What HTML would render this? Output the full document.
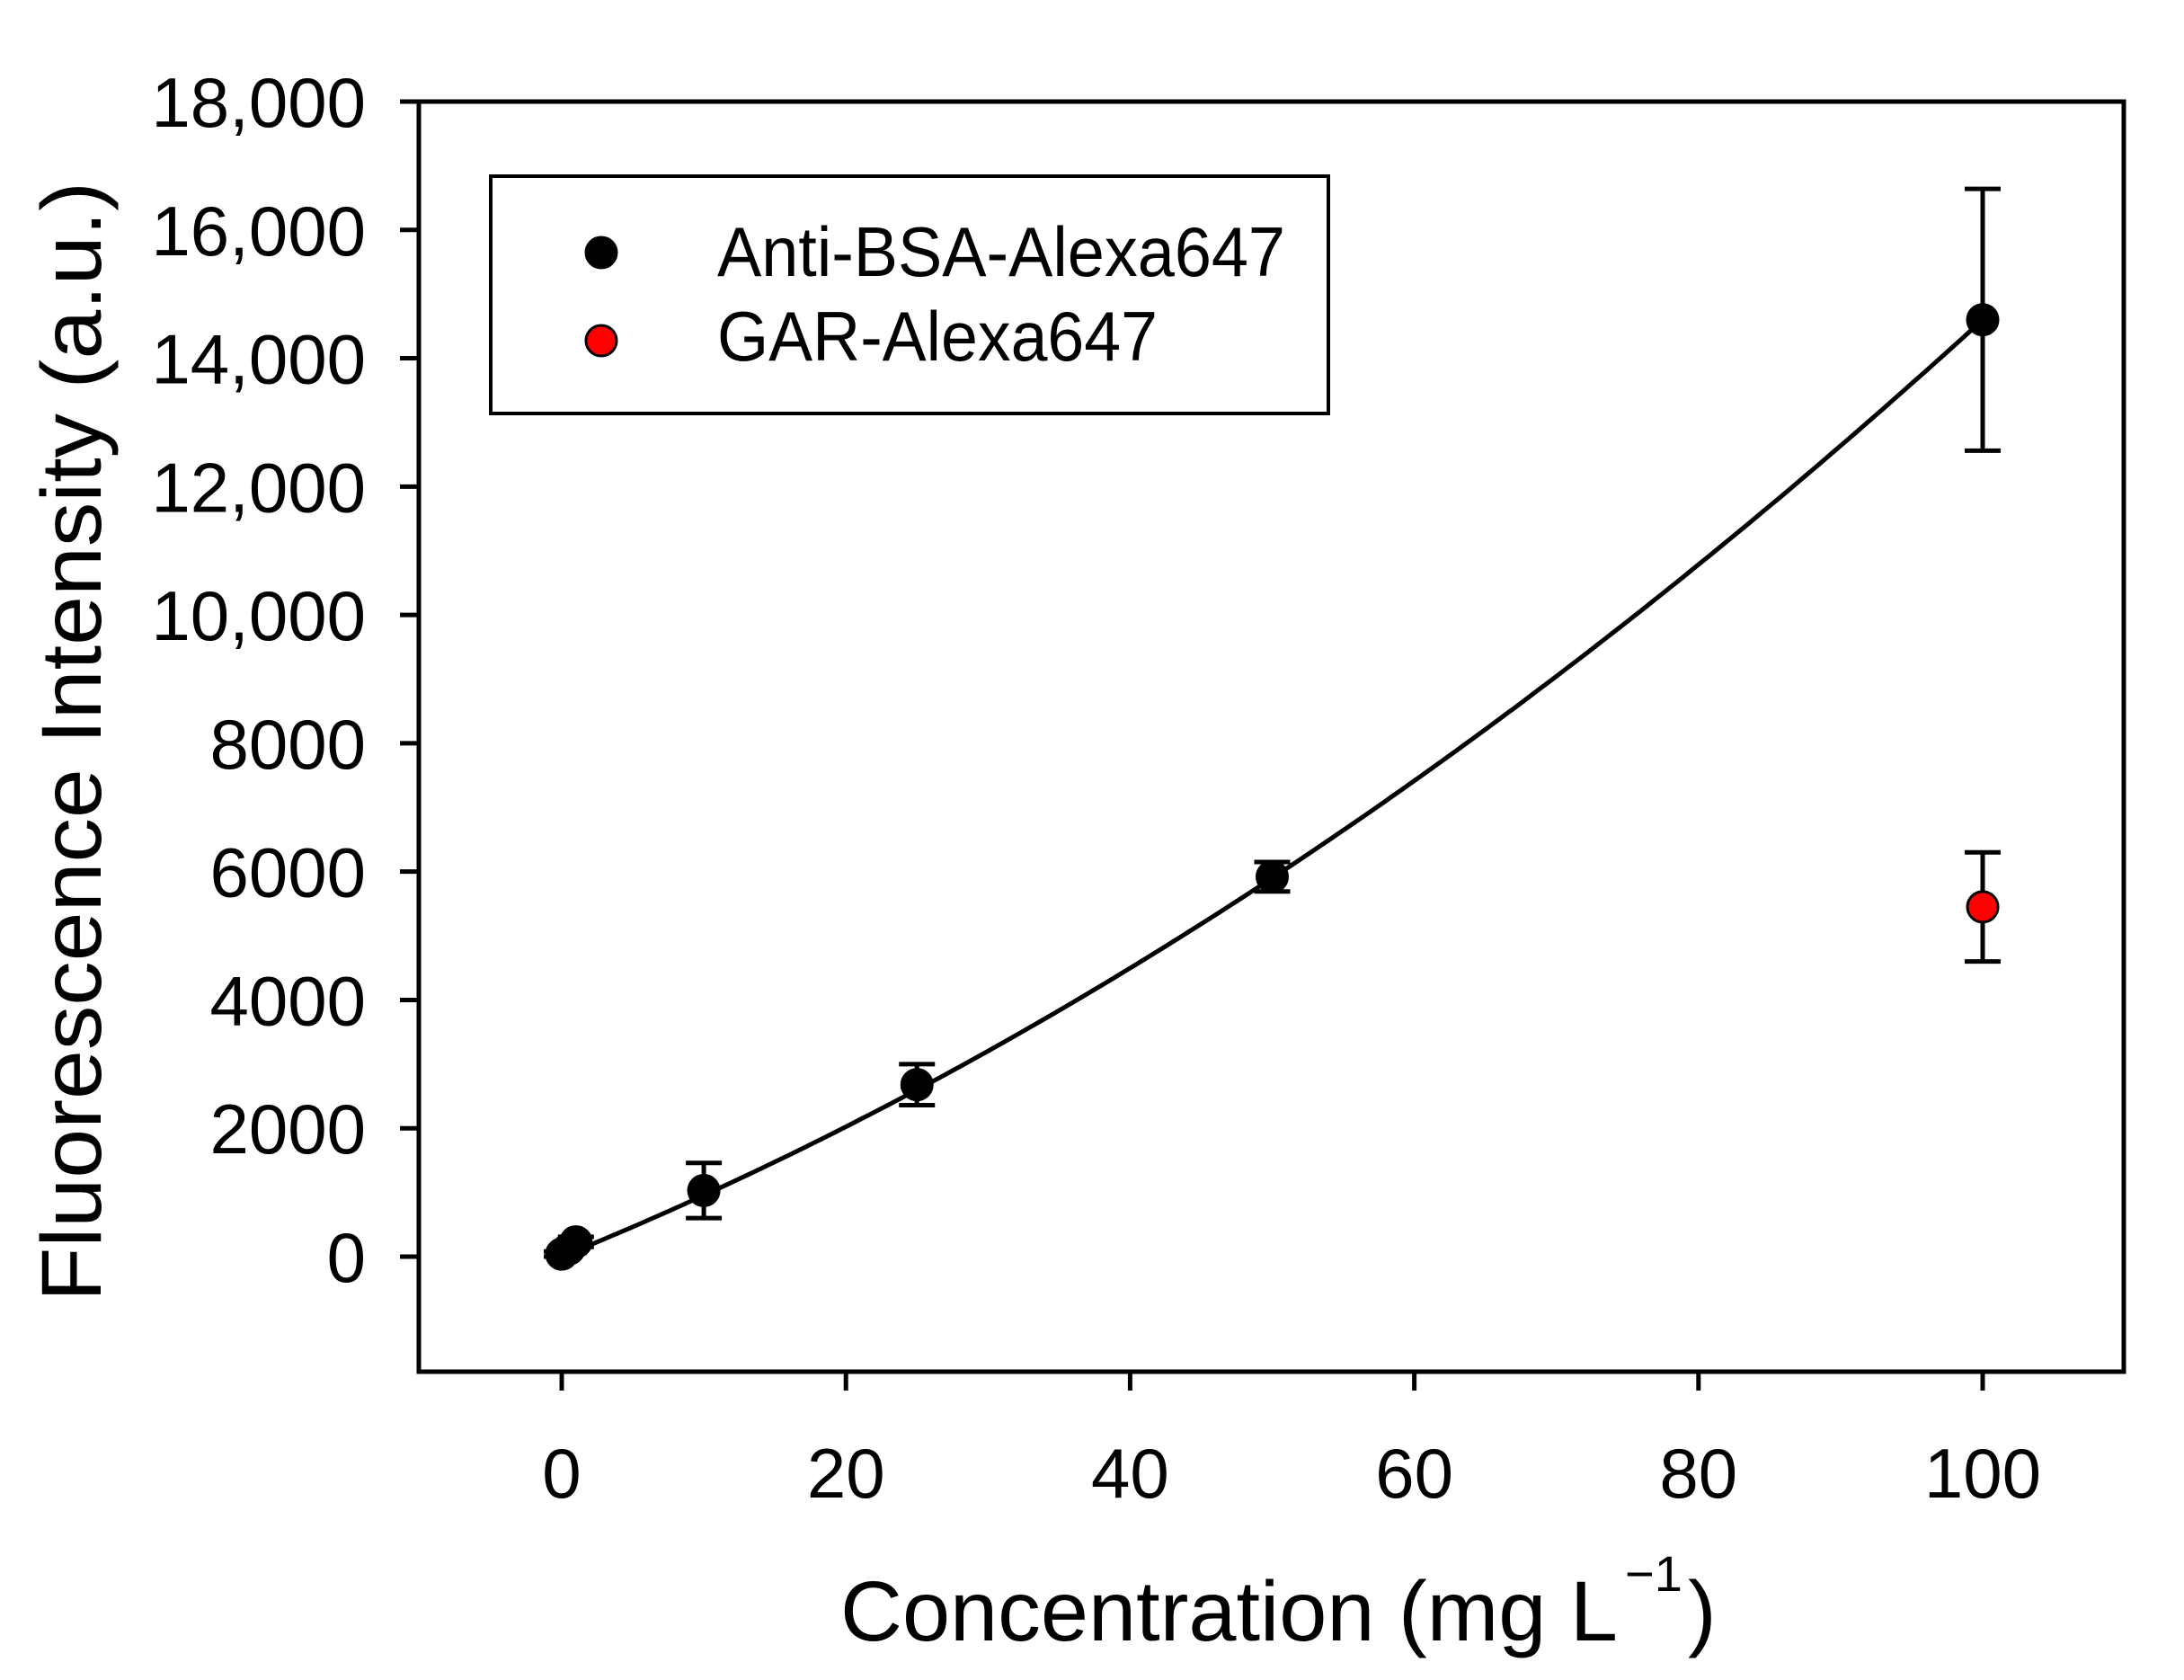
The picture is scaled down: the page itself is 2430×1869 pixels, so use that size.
<!DOCTYPE html>
<html><head><meta charset="utf-8"><style>
html,body{margin:0;padding:0;background:#fff;}
svg{display:block;font-family:"Liberation Sans",Arial,sans-serif;}
</style></head><body>
<svg id="chart" width="2430" height="1869" viewBox="0 0 2430 1869" xmlns="http://www.w3.org/2000/svg">
<rect x="0" y="0" width="2430" height="1869" fill="#fff"/>
<g id="plot"></g>
</svg>
<script>
const xTicks = [0, 20, 40, 60, 80, 100];
const yTicks = [0, 2000, 4000, 6000, 8000, 10000, 12000, 14000, 16000, 18000];
const yTickLabels = ["0","2000","4000","6000","8000","10,000","12,000","14,000","16,000","18,000"];
const antiX = [0, 0.5, 1, 10, 25, 50, 100];
const antiY = [40, 120, 230, 1030, 2680, 5920, 14600];
const antiErr = [40, 60, 80, 430, 320, 230, 2040];
const garX = [100];
const garY = [5450];
const garErr = [850];
const fitCoef = [0, 90, 0.56];

const NS = "http://www.w3.org/2000/svg";
const L = 466, R = 2363, T = 113, B = 1526;
function sx(v){ return 625 + (v - 0) * (2206 - 625) / 100; }
function sy(v){ return 1398 - v * (1398 - 113) / 18000; }
const g = document.getElementById('plot');
function el(tag, attrs, parent){
  const e = document.createElementNS(NS, tag);
  for (const k in attrs) e.setAttribute(k, attrs[k]);
  (parent || g).appendChild(e);
  return e;
}

let d = "";
for (let i = 0; i <= 200; i++) {
  const x = i * 100 / 200;
  const y = fitCoef[0] + fitCoef[1] * x + fitCoef[2] * x * x;
  d += (i ? "L" : "M") + sx(x).toFixed(1) + "," + sy(y).toFixed(1);
}
const curve = el('path', {d: d, fill: 'none', stroke: '#000', 'stroke-width': 5});



function drawSeries(xs, ys, es, fill, name){
  for (let i = 0; i < xs.length; i++) {
    const cx = sx(xs[i]), cy = sy(ys[i]);
    const eb = el('path', {d: `M${cx},${sy(ys[i]+es[i])}V${sy(ys[i]-es[i])}M${cx-20},${sy(ys[i]+es[i])}H${cx+20}M${cx-20},${sy(ys[i]-es[i])}H${cx+20}`, stroke: '#000', 'stroke-width': 5, fill: 'none'});
    
    
    const c = el('circle', {cx: cx, cy: cy, r: 17, fill: fill, stroke: '#000', 'stroke-width': 3});
    
    
  }
}
drawSeries(antiX, antiY, antiErr, '#000', 'anti-bsa');
drawSeries(garX, garY, garErr, '#ff0000', 'gar');

const frame = el('rect', {x: L, y: T, width: R - L, height: B - T, fill: 'none', stroke: '#000', 'stroke-width': 5});



for (let i = 0; i < yTicks.length; i++) {
  const y = sy(yTicks[i]);
  const t = el('line', {x1: L - 21, x2: L, y1: y, y2: y, stroke: '#000', 'stroke-width': 5});
  
  
  const tx = el('text', {x: 407, y: y + 28, 'text-anchor': 'end', 'font-size': 78, fill: '#000'});
  tx.textContent = yTickLabels[i];
  
  
}
for (let i = 0; i < xTicks.length; i++) {
  const x = sx(xTicks[i]);
  const t = el('line', {x1: x, x2: x, y1: B, y2: B + 21, stroke: '#000', 'stroke-width': 5});
  
  
  const tx = el('text', {x: x, y: 1666, 'text-anchor': 'middle', 'font-size': 78, fill: '#000'});
  tx.textContent = String(xTicks[i]);
  
  
}
</script>
<svg style="position:absolute;left:0;top:0" width="2430" height="1869" viewBox="0 0 2430 1869" xmlns="http://www.w3.org/2000/svg">
<g>
<rect x="546" y="196" width="932" height="264" fill="#fff" stroke="#000" stroke-width="4"/>
<circle cx="669" cy="281" r="17" fill="#000" stroke="#000" stroke-width="3"/>
<text x="798" y="307" font-size="78" textLength="632" lengthAdjust="spacingAndGlyphs">Anti-BSA-Alexa647</text>
<circle cx="669" cy="379" r="17" fill="#ff0000" stroke="#000" stroke-width="3"/>
<text x="798" y="401" font-size="78" textLength="490" lengthAdjust="spacingAndGlyphs">GAR-Alexa647</text>
</g>
<text x="935" y="1825" font-size="95" textLength="865" lengthAdjust="spacingAndGlyphs">Concentration (mg L</text>
<text x="1808" y="1770" font-size="56">−1</text>
<text x="1878" y="1825" font-size="95">)</text>
<text transform="translate(112,825) rotate(-90)" text-anchor="middle" font-size="95" textLength="1246" lengthAdjust="spacingAndGlyphs">Fluorescence Intensity (a.u.)</text>
</svg>
</body></html>
